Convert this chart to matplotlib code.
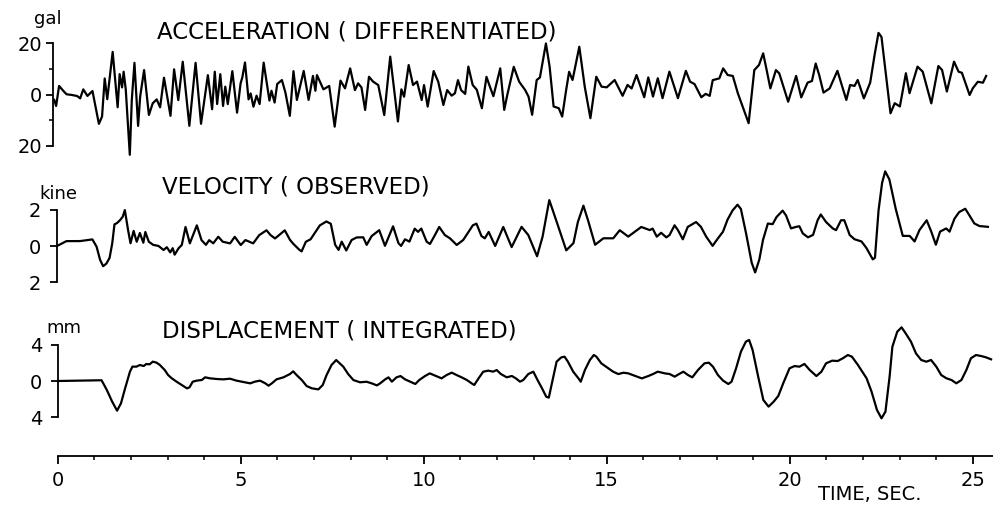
import numpy as np
import matplotlib
matplotlib.use("Agg")
import matplotlib.pyplot as plt
from matplotlib.transforms import Affine2D

# values (time in sec)
accel_t = [0.03, 0.08, 0.17, 0.28, 0.37, 0.51, 0.66, 0.74, 0.83, 0.94, 1.08, 1.24, 1.33, 1.42, 1.48,
           1.65, 1.76, 1.83, 1.89, 1.94, 1.99, 2.07, 2.15, 2.24, 2.31, 2.38, 2.50, 2.61, 2.72, 2.83,
           2.92, 3.04, 3.20, 3.32, 3.42, 3.56, 3.71, 3.91, 4.03, 4.24, 4.34, 4.43, 4.48, 4.58, 4.64,
           4.71, 4.77, 4.91, 5.02, 5.13, 5.18, 5.26, 5.34, 5.40, 5.47, 5.56, 5.64, 5.77, 5.91, 5.97,
           6.05, 6.13, 6.26, 6.35, 6.46, 6.58, 6.66, 6.86, 6.98, 7.11, 7.17, 7.22, 7.39, 7.55, 7.68,
           7.86, 7.98, 8.13, 8.25, 8.34, 8.43, 8.52, 8.64, 8.75, 8.89, 9.04, 9.23, 9.32, 9.41, 9.52,
           9.59, 9.73, 9.84, 9.95, 10.07, 10.14, 10.23, 10.41, 10.53, 10.66, 10.77, 10.89, 10.98, 11.07, 11.15,
           11.26, 11.36, 11.47, 11.58, 11.71, 11.85, 11.94, 12.03, 12.23, 12.32, 12.41, 12.60, 12.74, 12.90, 12.99,
           13.08, 13.22, 13.31, 13.49, 13.58, 13.67, 13.81, 13.90, 14.02, 14.11, 14.20, 14.40, 14.53, 14.67, 14.85,
           14.99, 15.13, 15.35, 15.56, 15.70, 15.81, 15.95, 16.15, 16.27, 16.39, 16.53, 16.65, 16.85, 17.07, 17.30,
           17.41, 17.53, 17.71, 17.83, 17.94, 18.03, 18.21, 18.32, 18.44, 18.58, 18.71, 18.99, 19.17, 19.30, 19.42,
           19.49, 19.60, 19.76, 19.85, 20.08, 20.31, 20.44, 20.62, 20.74, 20.85, 20.94, 21.05, 21.22, 21.44, 21.67,
           21.78, 21.90, 21.99, 22.15, 22.33, 22.47, 22.58, 22.66, 22.77, 22.87, 22.99, 23.13, 23.31, 23.40, 23.63,
           23.77, 23.99, 24.20, 24.30, 24.42, 24.63, 24.75, 24.84, 25.04, 25.13, 25.27, 25.41, 25.50]
accel = [-2.1, -4.5, 3.3, 1.4, 0.0, -0.3, -0.75, -1.7, 1.8, -0.8, 1.1, -11.75, -8.9, 5.9, -2.2,
         16.2, -5.4, 7.5, 2.3, 8.4, 1.5, -24.0, -2.65, 11.8, -12.8, -1.4, 8.9, -8.6, -4.1, -2.6,
         -5.7, 5.8, -9.1, 9.0, -3.0, 11.9, -13.1, 11.4, -12.4, 6.5, -6.8, 7.8, -4.8, 6.8, -5.6,
         1.9, -4.9, 7.9, -8.3, 3.1, 5.4, 11.2, -3.2, -0.9, -6.1, -1.8, -5.1, 11.0, -3.8, 0.0,
         -4.6, 2.6, 4.1, -0.8, -9.9, 7.5, -3.75, 7.5, -3.8, 5.5, -0.3, 5.8, 0.2, 1.5, -14.4,
         3.5, 0.45, 8.2, -0.3, 2.3, 0.7, -8.1, 4.8, 2.9, 1.5, -10.2, 12.5, -0.3, -12.8, -0.3,
         -3.2, 9.1, 1.3, 2.6, -4.6, 1.2, -7.2, 6.6, 2.4, -6.7, -0.9, -3.1, -2.2, 2.9, -1.0,
         -2.5, 8.1, 0.9, -1.0, -8.2, 4.0, 0.1, -3.6, 7.2, -9.0, -3.2, 7.7, 1.9, -1.4, -4.0,
         -11.1, 2.4, 3.4, 16.6, 7.5, -8.0, -8.7, -12.0, -1.7, 5.4, 2.2, 15.1, -0.5, -12.8, 3.3,
         -0.6, -0.9, 1.9, -4.3, -0.1, -1.5, 3.7, -5.0, 2.7, -4.8, 2.3, -5.5, 4.8, -5.6, 5.0,
         0.75, -0.2, -5.4, -4.1, -4.9, 1.2, 1.85, 5.7, 3.1, 2.7, -4.1, -15.8, 4.85, 6.8, 11.3,
         6.1, -2.4, 4.7, 3.4, -7.7, 2.3, -6.1, -0.4, 0.2, 7.0, 2.5, -4.4, -2.8, 4.0, -7.4,
         -1.6, -2.0, 0.3, -6.9, -0.8, 10.5, 18.5, 16.9, 1.4, -12.9, -9.0, -10.3, 2.6, -5.2, 5.1,
         3.1, -9.3, 5.2, 3.6, -4.8, 6.8, 2.85, 2.4, -6.3, -3.7, -1.2, -1.6, 1.0]

vel_t = [0.0, 0.26, 0.63, 0.97, 1.08, 1.17, 1.25, 1.34, 1.43, 1.51, 1.58, 1.65, 1.74, 1.81, 1.87,
         1.95, 2.01, 2.10, 2.18, 2.27, 2.36, 2.42, 2.51, 2.63, 2.77, 2.91, 3.00, 3.09, 3.16, 3.21,
         3.32, 3.41, 3.52, 3.63, 3.83, 3.95, 4.07, 4.16, 4.27, 4.41, 4.53, 4.73, 4.86, 5.02, 5.15,
         5.36, 5.53, 5.73, 5.84, 5.96, 6.23, 6.37, 6.46, 6.62, 6.68, 6.80, 6.93, 7.19, 7.37, 7.49,
         7.60, 7.69, 7.78, 7.90, 8.05, 8.19, 8.37, 8.46, 8.60, 8.81, 8.96, 9.19, 9.33, 9.40, 9.51,
         9.63, 9.78, 9.87, 9.96, 10.10, 10.19, 10.33, 10.45, 10.60, 10.74, 10.92, 11.10, 11.37, 11.47, 11.60,
         11.69, 11.80, 11.97, 12.20, 12.42, 12.70, 12.88, 13.11, 13.27, 13.47, 13.65, 13.91, 14.11, 14.24, 14.40,
         14.52, 14.70, 14.93, 15.20, 15.38, 15.61, 15.97, 16.20, 16.28, 16.39, 16.51, 16.65, 16.74, 16.88, 16.97,
         17.10, 17.24, 17.47, 17.60, 17.74, 17.91, 18.06, 18.20, 18.33, 18.47, 18.61, 18.70, 18.83, 18.97, 19.06,
         19.18, 19.29, 19.43, 19.56, 19.67, 19.84, 19.93, 20.06, 20.20, 20.29, 20.38, 20.52, 20.66, 20.79, 20.88,
         21.02, 21.20, 21.29, 21.43, 21.52, 21.66, 21.79, 21.98, 22.11, 22.28, 22.34, 22.46, 22.57, 22.66, 22.77,
         22.93, 23.11, 23.30, 23.43, 23.57, 23.77, 23.89, 24.01, 24.13, 24.30, 24.39, 24.53, 24.66, 24.83, 24.94,
         25.07, 25.21, 25.44]
vel = [0.0, 0.26, 0.25, 0.33, -0.07, -0.80, -1.16, -1.02, -0.71, 0.09, 1.14, 1.21, 1.38, 1.56, 1.92,
       0.80, 0.08, 0.76, 0.16, 0.64, 0.10, 0.69, 0.15, -0.03, -0.09, -0.32, -0.17, -0.46, -0.23, -0.59,
       -0.24, -0.06, 0.93, 0.02, 1.01, 0.19, -0.08, 0.18, 0.0, 0.36, 0.08, -0.02, 0.34, -0.12, 0.15,
       -0.04, 0.41, 0.67, 0.40, 0.21, 0.65, 0.11, -0.11, -0.44, -0.53, 0.0, 0.13, 0.89, 1.10, 0.97,
       -0.20, -0.48, -0.03, -0.52, 0.05, 0.19, 0.19, -0.23, 0.25, 0.57, -0.30, 0.77, -0.17, -0.32, 0.04,
       -0.09, 0.62, 0.44, 0.62, -0.11, -0.24, 0.25, 0.69, 0.24, 0.05, -0.32, -0.05, 0.75, 0.84, 0.15,
       0.02, 0.37, -0.41, 0.63, -0.49, 0.62, 0.16, -1.02, 0.06, 2.07, 0.94, -0.72, -0.33, 0.83, 1.73,
       0.91, -0.44, -0.09, -0.10, 0.34, -0.02, 0.50, 0.32, 0.40, -0.05, 0.16, -0.10, 0.03, 0.56, 0.29,
       -0.22, 0.46, 0.72, 0.45, -0.10, -0.61, -0.20, 0.16, 0.82, 1.32, 1.64, 1.40, 0.05, -1.58, -2.12,
       -1.41, -0.33, 0.57, 0.53, 0.92, 1.27, 1.00, 0.28, 0.36, 0.39, -0.01, -0.23, -0.10, 0.70, 1.02,
       0.60, 0.24, 0.14, 0.68, 0.68, -0.14, -0.38, -0.51, -0.87, -1.51, -1.42, 1.19, 2.71, 3.34, 2.89,
       1.26, -0.24, -0.25, -0.56, 0.07, 0.60, -0.03, -0.76, -0.04, 0.13, -0.05, 0.66, 1.02, 1.20, 0.83,
       0.38, 0.23, 0.18]

disp_t = [0.0, 1.19, 1.33, 1.47, 1.60, 1.71, 1.83, 1.97, 2.04, 2.15, 2.24, 2.35, 2.42, 2.51, 2.60,
          2.70, 2.79, 2.92, 3.01, 3.11, 3.24, 3.38, 3.52, 3.59, 3.68, 3.79, 3.93, 4.02, 4.15, 4.34,
          4.52, 4.70, 4.88, 5.11, 5.25, 5.38, 5.52, 5.66, 5.75, 5.84, 5.97, 6.16, 6.34, 6.43, 6.52,
          6.66, 6.79, 6.93, 7.11, 7.23, 7.34, 7.48, 7.61, 7.80, 7.93, 8.07, 8.25, 8.43, 8.57, 8.71,
          8.80, 8.94, 9.03, 9.12, 9.25, 9.36, 9.48, 9.62, 9.76, 9.87, 10.03, 10.16, 10.33, 10.48, 10.62,
          10.76, 10.89, 11.03, 11.17, 11.30, 11.37, 11.49, 11.62, 11.76, 11.89, 11.99, 12.10, 12.26, 12.40, 12.51,
          12.62, 12.71, 12.85, 12.99, 13.10, 13.22, 13.33, 13.40, 13.49, 13.63, 13.76, 13.85, 13.94, 14.08, 14.22,
          14.28, 14.40, 14.54, 14.65, 14.72, 14.85, 15.04, 15.17, 15.31, 15.45, 15.58, 15.77, 15.95, 16.13, 16.26,
          16.39, 16.58, 16.71, 16.85, 16.97, 17.09, 17.21, 17.33, 17.49, 17.67, 17.79, 17.90, 18.03, 18.17, 18.31,
          18.40, 18.53, 18.67, 18.81, 18.90, 18.99, 19.13, 19.26, 19.40, 19.54, 19.67, 19.81, 19.99, 20.13, 20.26,
          20.40, 20.54, 20.72, 20.86, 20.99, 21.16, 21.31, 21.45, 21.59, 21.70, 21.86, 22.09, 22.22, 22.36, 22.48,
          22.59, 22.72, 22.81, 22.95, 23.07, 23.18, 23.32, 23.45, 23.59, 23.73, 23.86, 24.00, 24.13, 24.27, 24.41,
          24.54, 24.68, 24.82, 24.95, 25.09, 25.23, 25.36, 25.50]
disp = [0.0, 0.0, -1.08, -2.37, -3.37, -2.57, -0.93, 0.89, 1.44, 1.43, 1.60, 1.49, 1.70, 1.66, 1.95,
        1.83, 1.57, 1.01, 0.45, 0.08, -0.30, -0.67, -1.05, -0.94, -0.33, -0.22, -0.16, 0.13, 0.01, -0.08,
        -0.13, -0.07, -0.30, -0.50, -0.62, -0.44, -0.34, -0.64, -0.91, -0.66, -0.23, -0.02, 0.33, 0.62, 0.21,
        -0.35, -1.02, -1.28, -1.41, -0.94, 0.15, 1.25, 1.78, 1.04, 0.22, -0.45, -0.71, -0.66, -0.85, -1.08,
        -0.86, -0.43, -0.22, -0.70, -0.23, -0.10, -0.47, -0.74, -1.00, -0.57, -0.14, 0.14, -0.16, -0.43, -0.07,
        0.18, -0.09, -0.36, -0.66, -1.04, -1.22, -0.50, 0.22, 0.33, 0.21, 0.38, -0.06, -0.44, -0.30, -0.57,
        -0.94, -0.77, -0.12, 0.13, -0.79, -1.72, -2.64, -2.75, -1.19, 1.19, 1.65, 1.72, 1.16, 0.05, -0.69,
        -1.06, 0.22, 1.31, 1.85, 1.66, 0.92, 0.36, -0.02, -0.29, -0.15, -0.23, -0.53, -0.81, -0.56, -0.35,
        -0.10, -0.30, -0.38, -0.68, -0.40, -0.15, -0.52, -0.79, 0.01, 0.73, 0.79, 0.34, -0.58, -1.21, -1.59,
        -1.34, 0.12, 1.94, 3.03, 3.21, 2.10, -0.84, -3.41, -4.15, -3.62, -3.00, -1.62, 0.02, 0.26, 0.18,
        0.47, -0.20, -0.88, -0.41, 0.50, 0.78, 0.73, 1.02, 1.37, 1.18, 0.26, -1.22, -2.70, -4.73, -5.65,
        -4.92, -1.08, 2.20, 3.84, 4.31, 3.64, 2.72, 1.43, 0.69, 0.49, 0.67, -0.07, -1.00, -1.37, -1.57,
        -1.94, -1.59, -0.50, 0.78, 1.13, 1.01, 0.86, 0.63]

time_ticks = [0, 5, 10, 15, 20, 25]

plt.rcParams['font.family'] = ['DejaVu Sans']

W, H = 993, 505
fig = plt.figure(figsize=[W / 100, H / 100], dpi=100)

sec = 36.6      # pixels per second on the record
tmax = 25.6
tilt = np.degrees(np.arctan(16 / 936))   # the scan is turned by about one degree


def px_axes(x0, ytop, w, h):
    return fig.add_axes([x0 / W, 1 - (ytop + h) / H, w / W, h / H])


def panel(t, y, x0, y0, ppu, lim, tick, minor, pad):
    ax = px_axes(x0, y0 - lim * ppu, tmax * sec, 2 * lim * ppu)
    ax.set_xlim(0, tmax)
    ax.set_ylim(-lim, lim)
    ax.patch.set_visible(False)
    for s in ['top', 'right', 'bottom']:
        ax.spines[s].set_visible(False)
    ax.spines['left'].set_bounds(-tick, tick)
    ax.spines['left'].set_linewidth(1.3)
    ax.set_xticks([])
    ax.set_yticks([-tick, 0, tick])
    ax.set_yticklabels([f"{tick:g}", "0", f"{tick:g}"])
    ax.set_yticks(minor, minor=True)
    ax.tick_params(axis='y', which='major', length=5, width=1.3, pad=pad, labelsize=14)
    ax.tick_params(axis='y', which='minor', length=3, width=1.1)
    ox, oy = ax.transData.transform((0, 0))
    rot = Affine2D().rotate_deg_around(ox, oy, tilt)
    ax.plot(t, y, color='k', lw=1.6, solid_joinstyle='round', clip_on=False,
            transform=ax.transData + rot)
    return ax


panel(accel_t, accel, 53, 94.5, 2.567, 30, 20, [-10, 10], 3)
panel(vel_t, vel, 57, 246, 18.1, 4, 2, [], 6.5)
panel(disp_t, disp, 58, 381, 9.1, 6.5, 4, [], 6.5)

# time axis
axt = px_axes(57.7, 455, tmax * sec, 1)
axt.set_xlim(0, tmax)
axt.patch.set_visible(False)
for s in ['top', 'right', 'left']:
    axt.spines[s].set_visible(False)
axt.spines['bottom'].set_linewidth(1.3)
axt.set_yticks([])
axt.set_xticks(time_ticks)
axt.set_xticks(np.arange(0, 26), minor=True)
axt.tick_params(axis='x', which='major', length=6, width=1.3, pad=5, labelsize=14)
axt.tick_params(axis='x', which='minor', length=3, width=1.1)

def put(x, y, s, size):
    fig.text(x / W, 1 - y / H, s, fontsize=size, ha='left', va='baseline')

put(157, 38.5, "ACCELERATION ( DIFFERENTIATED)", 16.5)
put(162, 193, "VELOCITY ( OBSERVED)", 16.5)
put(162, 338, "DISPLACEMENT ( INTEGRATED)", 16.5)
put(34, 24, "gal", 13)
put(39, 199, "kine", 13)
put(46, 333, "mm", 13)
put(818, 500, "TIME, SEC.", 14)

fig.savefig("out.png", dpi=100)
